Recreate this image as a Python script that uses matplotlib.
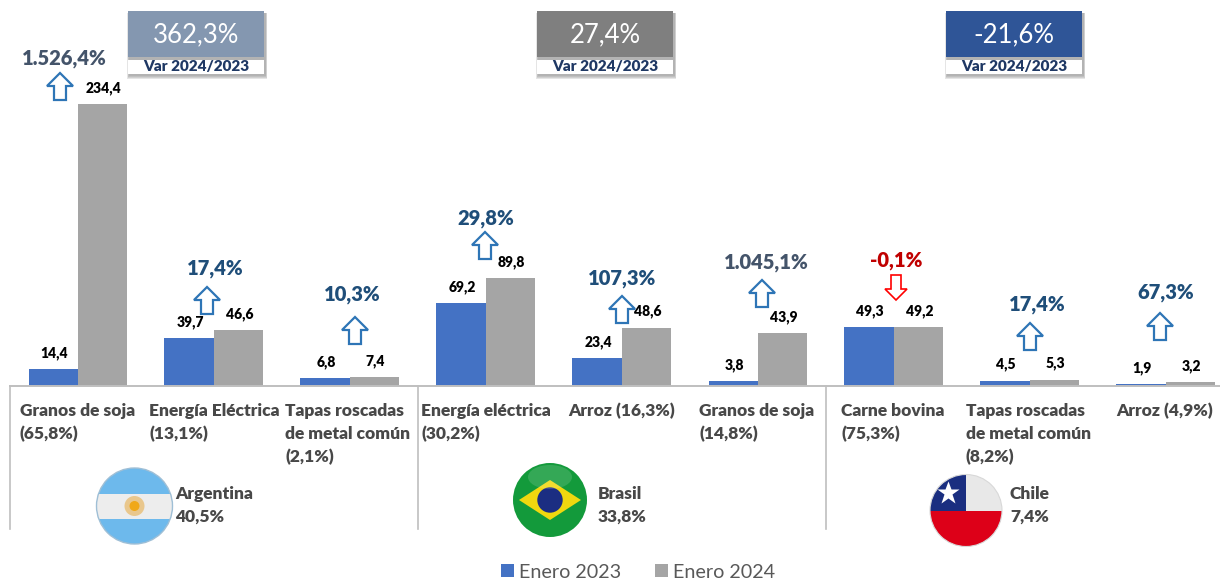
import numpy as np
import matplotlib
matplotlib.use('Agg')
import matplotlib.pyplot as plt
from matplotlib.patches import Circle, Rectangle, Polygon, Ellipse

plt.rcParams['font.family'] = ['Lato', 'DejaVu Sans']

categories = ['Granos de soja\n(65,8%)', 'Energía Eléctrica\n(13,1%)', 'Tapas roscadas\nde metal común\n(2,1%)',
              'Energía eléctrica\n(30,2%)', 'Arroz (16,3%)', 'Granos de soja\n(14,8%)',
              'Carne bovina\n(75,3%)', 'Tapas roscadas\nde metal común\n(8,2%)', 'Arroz (4,9%)']
enero_2023 = [14.4, 39.7, 6.8, 69.2, 23.4, 3.8, 49.3, 4.5, 1.9]
enero_2024 = [234.4, 46.6, 7.4, 89.8, 48.6, 43.9, 49.2, 5.3, 3.2]
variacion = ['1.526,4%', '17,4%', '10,3%', '29,8%', '107,3%', '1.045,1%', '-0,1%', '17,4%', '67,3%']
paises = ['Argentina\n40,5%', 'Brasil\n33,8%', 'Chile\n7,4%']
var_paises = ['362,3%', '27,4%', '-21,6%']

W, H = 1220, 581
base_y = 386
px_per_unit = 282 / 234.4

fig = plt.figure(figsize=(12.2, 5.81), dpi=100)

# bars axes, runs a bit past the right edge of the picture like the original
ax = fig.add_axes([10 / W, (H - base_y) / H, 1224 / W, base_y / H])
ax.set_xlim(-0.5, 8.5)
ax.set_ylim(0, base_y / px_per_unit)
x = np.arange(len(categories))
w = 49.5 / 136
b1 = ax.bar(x - w / 2, enero_2023, w, color='#4472C4', label='Enero 2023')
b2 = ax.bar(x + w / 2, enero_2024, w, color='#A5A5A5', label='Enero 2024')
for bars, vals in ((b1, enero_2023), (b2, enero_2024)):
    for r, v in zip(bars, vals):
        ax.annotate(f'{v:.1f}'.replace('.', ','), (r.get_x() + r.get_width() / 2, v),
                    xytext=(1, 16), textcoords='offset pixels', ha='center', va='center',
                    fontsize=10, fontweight='heavy', color='black')
for s in ['top', 'right', 'left']:
    ax.spines[s].set_visible(False)
ax.spines['bottom'].set_color('#BFBFBF')
ax.spines['bottom'].set_linewidth(1.4)
ax.set_xticks([])
ax.set_yticks([])
ax.patch.set_alpha(0)

# overlay in picture pixels for the notes and flags
ov = fig.add_axes([0, 0, 1, 1])
ov.set_xlim(0, W)
ov.set_ylim(H, 0)
ov.axis('off')
ov.patch.set_alpha(0)

for sx in [10, 418, 826]:
    ov.plot([sx, sx], [base_y, 529], color='#BFBFBF', lw=1.2)

label_x = [20, 149, 285, 421, 568, 699, 841, 966, 1116]
for lx, c in zip(label_x, categories):
    ov.text(lx, 403, c, ha='left', va='top', fontsize=12.5, fontweight='heavy',
            color='#484848', linespacing=1.52)

# arrows
arrow_cx = [60, 207, 355, 485, 622, 762, 896, 1030, 1160]
arrow_top = [73, 287, 317, 232, 296, 280, 275, 323, 313]
for i, (cx, t) in enumerate(zip(arrow_cx, arrow_top)):
    h = 27
    if variacion[i].startswith('-'):
        pts = [(cx - 5, t), (cx + 5, t), (cx + 5, t + 14), (cx + 11, t + 14), (cx, t + h - 2),
               (cx - 11, t + 14), (cx - 5, t + 14)]
        ec = '#FF0000'
        lw = 1.2
    else:
        pts = [(cx - 6, t + h), (cx + 6, t + h), (cx + 6, t + 13), (cx + 13, t + 13), (cx, t),
               (cx - 13, t + 13), (cx - 6, t + 13)]
        ec = '#2E75B6'
        lw = 1.6
    ov.add_patch(Polygon(pts, closed=True, fc='white', ec=ec, lw=lw))

var_x = [64, 215, 352, 486, 622, 766, 896, 1037, 1166]
var_y = [59, 269, 295, 219, 278, 262, 260, 304, 292]
var_col = ['#44546A', '#1F4E79', '#1F4E79', '#1F4E79', '#1F4E79', '#44546A', '#C00000', '#1F4E79', '#1F4E79']
for vx, vy, t, c in zip(var_x, var_y, variacion, var_col):
    ov.text(vx, vy, t, ha='center', va='center', fontsize=14.5, fontweight='heavy', color=c)

# boxes on top, soft shadow from a few stacked rects
box_x = [128, 537, 946]
box_col = ['#8497B0', '#7F7F7F', '#2F5597']
for bx, c, t in zip(box_x, box_col, var_paises):
    for d in [4, 3, 2, 1]:
        ov.add_patch(Rectangle((bx + 1 - d / 2, 13), 136 + d, 62 + d, fc='#808080', ec='none', alpha=0.2))
    ov.add_patch(Rectangle((bx, 11), 136, 46, fc=c, ec='none'))
    ov.add_patch(Rectangle((bx, 60), 136, 14, fc='white', ec='none'))
    ov.text(bx + 68, 35, t, ha='center', va='center', fontsize=18.5, color='white')
    ov.text(bx + 68, 67, 'Var 2024/2023', ha='center', va='center', fontsize=11,
            fontweight='heavy', color='#1F3864')


def clip_circle(cx, cy, r):
    return Circle((cx, cy), r, transform=ov.transData)


# Argentina
cx, cy, r = 134.5, 506, 38
c0 = clip_circle(cx, cy, r)
for y0, h, col in [(cy - r, r * 2, '#6DB9EC'), (cy - 12.5, 25, '#EDEDED')]:
    p = Rectangle((cx - r, y0), 2 * r, h, fc=col, ec='none')
    ov.add_patch(p)
    p.set_clip_path(c0)
ov.add_patch(Circle((cx, cy), 10, fc='#E8B864', ec='none', alpha=0.7))
ov.add_patch(Circle((cx, cy), 5, fc='#F0A818', ec='none'))
ov.add_patch(Circle((cx, cy), r, fc='none', ec='#9FBFD6', lw=1))

# Brasil
cx, cy, r = 550, 500, 37
ov.add_patch(Circle((cx, cy), r, fc='#139A3B', ec='none'))
ov.add_patch(Polygon([(cx - 31, cy), (cx, cy - 20), (cx + 31, cy), (cx, cy + 20)], fc='#F0D80F', ec='none'))
ov.add_patch(Circle((cx, cy), 12.7, fc='#1B2E82', ec='none'))
ov.add_patch(Ellipse((cx, cy - 23), 44, 24, fc='white', ec='none', alpha=0.14))

# Chile
cx, cy, r = 966, 510.5, 36
c0 = clip_circle(cx, cy, r)
for xy, w2, h2, col in [((cx - r, cy - r), 2 * r, r, '#E8E8E8'), ((cx - r, cy - r), r, r, '#1A2E80'),
                        ((cx - r, cy), 2 * r, r, '#DD0018')]:
    p = Rectangle(xy, w2, h2, fc=col, ec='none')
    ov.add_patch(p)
    p.set_clip_path(c0)
ov.plot([cx - 18], [cy - 18], marker='*', ms=17, color='white', mec='none')
ov.add_patch(Circle((cx, cy), r, fc='none', ec='#D8D8D8', lw=0.8))

pais_x = [175, 598, 1010]
for px_, t in zip(pais_x, paises):
    ov.text(px_, 486, t, ha='left', va='top', fontsize=12.5, fontweight='heavy',
            color='#484848', linespacing=1.52)

fig.legend(handles=[b1, b2], loc='center', bbox_to_anchor=(638 / W, (H - 572) / H), ncol=2, frameon=False,
           fontsize=14.2, labelcolor='#595959', handlelength=0.65, handleheight=0.65,
           handletextpad=0.25, columnspacing=1.75, borderpad=0, borderaxespad=0)

fig.savefig('out.png', dpi=100)
